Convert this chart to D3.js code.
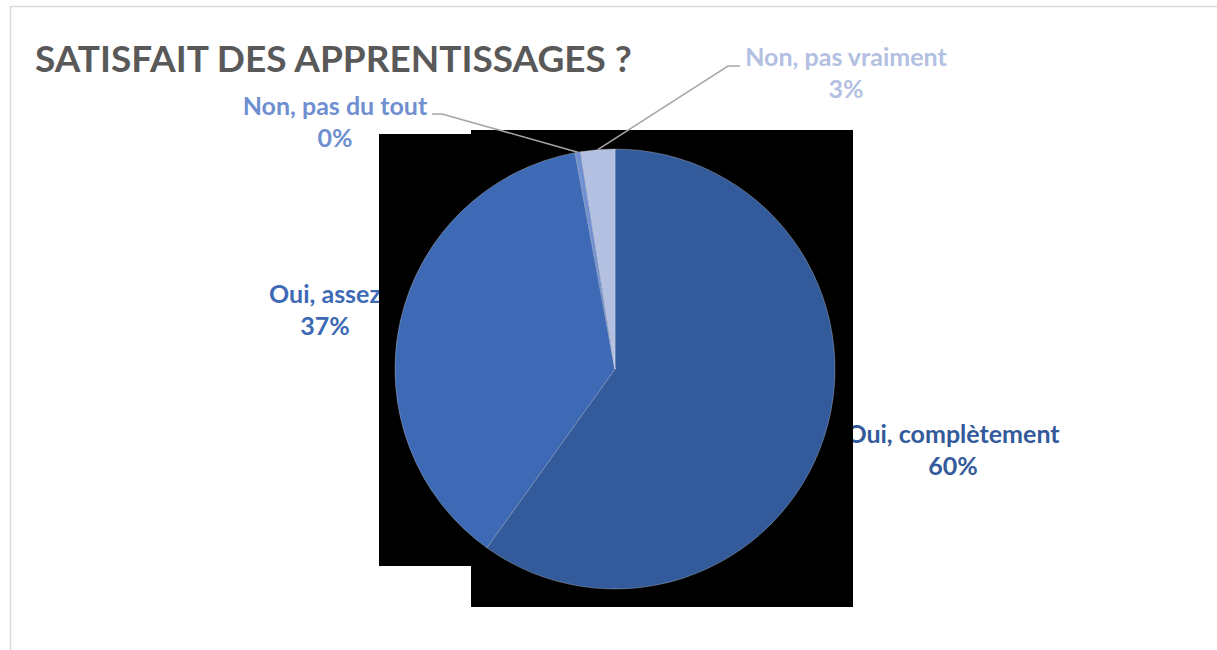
<!DOCTYPE html>
<html>
<head>
<meta charset="utf-8">
<script src="https://cdn.jsdelivr.net/npm/d3@7"></script>
<style>
html,body{margin:0;padding:0;background:#fff;}
svg{display:block;}
text{font-family:Lato,"Open Sans",sans-serif;font-weight:bold;}
</style>
</head>
<body>
<svg id="chart" width="1217" height="650"></svg>
<script>
// ---- data ----
const title = "SATISFAIT DES APPRENTISSAGES ?";
const categories = ["Oui, complètement", "Oui, assez", "Non, pas du tout", "Non, pas vraiment"];
const values = [59.9, 37.2, 0.4, 2.5]; // percent
const colors = ["#335a9a", "#3e6ab5", "#6f8fd0", "#b3c0e1"];

// ---- layout ----
const W = 1217, H = 650;
const cx = 615, cy = 369, R = 220;
const svg = d3.select("#chart");

// chart frame
svg.append("rect").attr("x", 10.5).attr("y", 6.5).attr("width", W + 20).attr("height", H + 20)
  .attr("fill", "#fff").attr("stroke", "#d9d9d9").attr("stroke-width", 1.5);

// title
svg.append("text").attr("x", 35).attr("y", 72).attr("fill", "#595959")
  .attr("font-size", 37).text(title);

const pie = d3.pie().sort(null).value(d => d)(values);
const arc = d3.arc().innerRadius(0).outerRadius(R);

// label placement (layout)
const labelPos = [
  {x: 953, y: 443}, {x: 325, y: 303}, {x: 335, y: 115}, {x: 846, y: 66}
];
const leaderStart = [null, null, [[432, 114], [442, 114]], [[740, 66], [728, 66]]];

const lbl = svg.append("g");
pie.forEach((p, i) => {
  const t = lbl.append("text").attr("text-anchor", "middle").attr("fill", colors[i]).attr("font-size", 25);
  t.append("tspan").attr("x", labelPos[i].x).attr("y", labelPos[i].y).text(categories[i]);
  t.append("tspan").attr("x", labelPos[i].x).attr("y", labelPos[i].y + 32).text(Math.round(values[i]) + "%");
});

// black artifact blocks behind pie
svg.append("rect").attr("x", 379).attr("y", 134).attr("width", 474).attr("height", 432).attr("fill", "#000");
svg.append("rect").attr("x", 471).attr("y", 130).attr("width", 382).attr("height", 477).attr("fill", "#000");

// pie
const g = svg.append("g").attr("transform", `translate(${cx},${cy})`);
g.selectAll("path").data(pie).join("path")
  .attr("d", arc)
  .attr("fill", (d, i) => colors[i])
  .attr("stroke", "#ffffff").attr("stroke-opacity", 0.35).attr("stroke-width", 0.8);

// leader lines
const edgeArc = d3.arc().innerRadius(R).outerRadius(R);
pie.forEach((p, i) => {
  if (!leaderStart[i]) return;
  const c = edgeArc.centroid(p);
  const pts = leaderStart[i].concat([[cx + c[0], cy + c[1]]]);
  svg.append("path").attr("d", d3.line()(pts)).attr("fill", "none")
    .attr("stroke", "#a6a6a6").attr("stroke-width", 1.5);
});
</script>
</body>
</html>
